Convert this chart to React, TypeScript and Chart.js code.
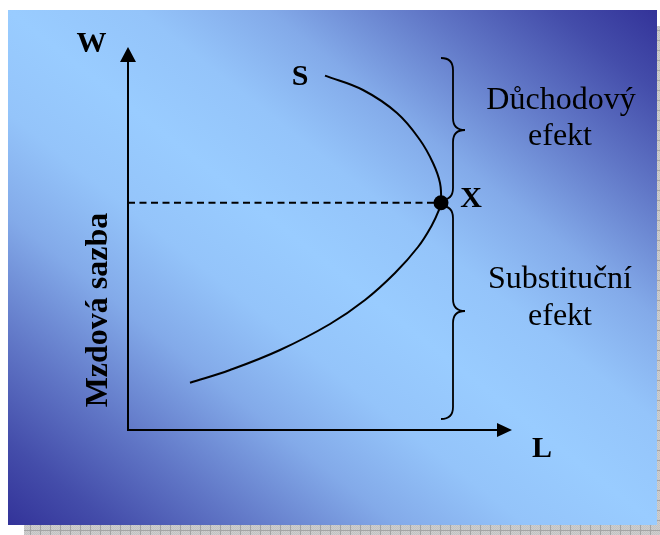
import React, { useEffect, useRef } from "react";
import { Chart, registerables } from "chart.js";

Chart.register(...registerables);

// Labour supply curve (L = hours of labour, W = wage rate)
const L_VALUES = [1.55, 2.55, 3.8, 5.05, 5.925, 6.675, 7.25, 7.6, 7.775, 7.825, 7.8, 7.625, 7.3, 6.725, 5.875, 4.925];
const W_VALUES = [1.18, 1.5, 2.0, 2.65, 3.25, 3.925, 4.575, 5.125, 5.5, 5.68, 6.175, 6.675, 7.25, 7.925, 8.5, 8.86];

// Equilibrium point X
const X_POINT_L = [7.825];
const X_POINT_W = [5.68];

// Axis extents (arrow tips)
const AXIS_L_MAX = [9.6];
const AXIS_W_MAX = [9.575];

// Braces: [top W, middle W, bottom W]
const BRACE_INCOME = [9.3, 7.5, 5.75];
const BRACE_SUBST = [5.6, 2.975, 0.275];
const BRACE_SPINE_L = [8.125];

// Texts
const AXIS_W_LABEL = "W";
const AXIS_L_LABEL = "L";
const CURVE_LABEL = "S";
const POINT_LABEL = "X";
const Y_TITLE = "Mzdová sazba";
const INCOME_TEXT = ["Důchodový", "efekt"];
const SUBST_TEXT = ["Substituční", "efekt"];

const SERIF = '"Liberation Serif", "Times New Roman", serif';

const DARK = [51, 51, 153];
const LIGHT = [153, 204, 255];
const mix = (f: number) =>
  `rgb(${DARK.map((d, i) => Math.round(d + (LIGHT[i] - d) * f)).join(",")})`;
// gradient position -> share of light colour
const GRAD_POS = [0, 0.08, 0.18, 0.3, 0.4, 0.5];
const GRAD_SHARE = [0, 0.17, 0.44, 0.78, 0.95, 1];

const decorPlugin = {
  id: "decor",
  beforeDraw(chart: any) {
    const ctx: CanvasRenderingContext2D = chart.ctx;
    ctx.save();
    ctx.fillStyle = "#ffffff";
    ctx.fillRect(0, 0, chart.width, chart.height);
    // shadow pattern
    const pc = document.createElement("canvas");
    pc.width = 10;
    pc.height = 10;
    const p = pc.getContext("2d")!;
    p.fillStyle = "#cfcfcf";
    p.fillRect(0, 0, 10, 10);
    p.fillStyle = "#c2c2c2";
    for (let i = 0; i < 10; i++) {
      for (let j = 0; j < 10; j++) {
        if ((i + j) % 2 === 0) p.fillRect(i, j, 1, 1);
      }
    }
    p.fillStyle = "#a4a4a4";
    p.fillRect(0, 0, 1, 10);
    p.fillRect(0, 0, 10, 1);
    const pat = ctx.createPattern(pc, "repeat");
    if (pat) {
      ctx.fillStyle = pat;
      ctx.fillRect(24, 26, 660 - 24, 535 - 26);
    }
    // gradient panel
    ctx.save();
    ctx.translate(8, 10);
    ctx.scale(649, 515);
    const g = ctx.createLinearGradient(1, 0, 0, 1);
    GRAD_POS.forEach((pos, i) => {
      g.addColorStop(pos, mix(GRAD_SHARE[i]));
      g.addColorStop(1 - pos, mix(GRAD_SHARE[i]));
    });
    ctx.fillStyle = g;
    ctx.fillRect(0, 0, 1, 1);
    ctx.restore();
    ctx.restore();
  },
  afterDatasetsDraw(chart: any) {
    const ctx: CanvasRenderingContext2D = chart.ctx;
    const xs = chart.scales.x;
    const ys = chart.scales.y;
    const px = (v: number) => xs.getPixelForValue(v);
    const py = (v: number) => ys.getPixelForValue(v);
    ctx.save();
    ctx.strokeStyle = "#000";
    ctx.fillStyle = "#000";
    ctx.lineWidth = 2;
    ctx.lineCap = "butt";

    const ox = px(0);
    const oy = py(0);
    const yTip = py(AXIS_W_MAX[0]);
    const xTip = px(AXIS_L_MAX[0]);
    // y axis
    ctx.beginPath();
    ctx.moveTo(ox, oy + 1);
    ctx.lineTo(ox, yTip + 12);
    ctx.stroke();
    ctx.beginPath();
    ctx.moveTo(ox, yTip);
    ctx.lineTo(ox - 8, yTip + 15);
    ctx.lineTo(ox + 8, yTip + 15);
    ctx.closePath();
    ctx.fill();
    // x axis
    ctx.beginPath();
    ctx.moveTo(ox - 1, oy);
    ctx.lineTo(xTip - 12, oy);
    ctx.stroke();
    ctx.beginPath();
    ctx.moveTo(xTip, oy);
    ctx.lineTo(xTip - 15, oy - 7);
    ctx.lineTo(xTip - 15, oy + 7);
    ctx.closePath();
    ctx.fill();

    // braces
    const drawBrace = (vals: number[]) => {
      const sx = px(BRACE_SPINE_L[0]);
      const yT = py(vals[0]);
      const yM = py(vals[1]);
      const yB = py(vals[2]);
      const r = 12;
      ctx.beginPath();
      ctx.moveTo(sx - r, yT);
      ctx.quadraticCurveTo(sx, yT, sx, yT + r);
      ctx.lineTo(sx, yM - r);
      ctx.quadraticCurveTo(sx, yM, sx + r, yM);
      ctx.quadraticCurveTo(sx, yM, sx, yM + r);
      ctx.lineTo(sx, yB - r);
      ctx.quadraticCurveTo(sx, yB, sx - r, yB);
      ctx.stroke();
    };
    ctx.lineWidth = 1.8;
    drawBrace(BRACE_INCOME);
    drawBrace(BRACE_SUBST);

    // labels
    ctx.textAlign = "center";
    ctx.textBaseline = "alphabetic";
    ctx.font = `bold 30px ${SERIF}`;
    ctx.fillText(AXIS_W_LABEL, 91.5, 52);
    ctx.fillText(CURVE_LABEL, 300, 85);
    ctx.fillText(POINT_LABEL, 471, 207);
    ctx.fillText(AXIS_L_LABEL, 542, 457);

    ctx.save();
    ctx.translate(107, 310);
    ctx.rotate(-Math.PI / 2);
    ctx.font = `bold 32px ${SERIF}`;
    ctx.fillText(Y_TITLE, 0, 0);
    ctx.restore();

    ctx.font = `32px ${SERIF}`;
    ctx.fillText(INCOME_TEXT[0], 561, 109);
    ctx.fillText(INCOME_TEXT[1], 560, 145);
    ctx.fillText(SUBST_TEXT[0], 560, 288);
    ctx.fillText(SUBST_TEXT[1], 560, 325);
    ctx.restore();
  },
};

export default function App() {
  const canvasRef = useRef<HTMLCanvasElement>(null);

  useEffect(() => {
    const canvas = canvasRef.current;
    if (!canvas) return;
    const curve = L_VALUES.map((l, i) => ({ x: l, y: W_VALUES[i] }));
    const chart = new Chart(canvas, {
      type: "scatter",
      data: {
        datasets: [
          {
            label: "S",
            data: curve,
            showLine: true,
            borderColor: "#000",
            borderWidth: 2,
            pointRadius: 0,
            tension: 0.4,
            fill: false,
            clip: false,
          } as any,
          {
            label: "W*",
            data: [
              { x: 0, y: X_POINT_W[0] },
              { x: X_POINT_L[0], y: X_POINT_W[0] },
            ],
            showLine: true,
            borderColor: "#000",
            borderWidth: 2,
            borderDash: [7, 4.5],
            pointRadius: 0,
            fill: false,
            clip: false,
          } as any,
          {
            label: "X",
            data: [{ x: X_POINT_L[0], y: X_POINT_W[0] }],
            pointRadius: 7.5,
            pointBackgroundColor: "#000",
            pointBorderColor: "#000",
            pointBorderWidth: 0,
            clip: false,
          } as any,
        ],
      },
      options: {
        animation: false,
        responsive: false,
        devicePixelRatio: 1,
        layout: { padding: { left: 128, right: 132, top: 30, bottom: 105 } },
        plugins: {
          legend: { display: false },
          tooltip: { enabled: false },
          title: { display: false },
        },
        events: [],
        scales: {
          x: { type: "linear", min: 0, max: 10, display: false },
          y: { type: "linear", min: 0, max: 10, display: false },
        },
      },
      plugins: [decorPlugin],
    });
    return () => chart.destroy();
  }, []);

  return (
    <div style={{ position: "absolute", left: 0, top: 0, width: 660, height: 535 }}>
      <canvas ref={canvasRef} width={660} height={535} style={{ display: "block" }} />
    </div>
  );
}
